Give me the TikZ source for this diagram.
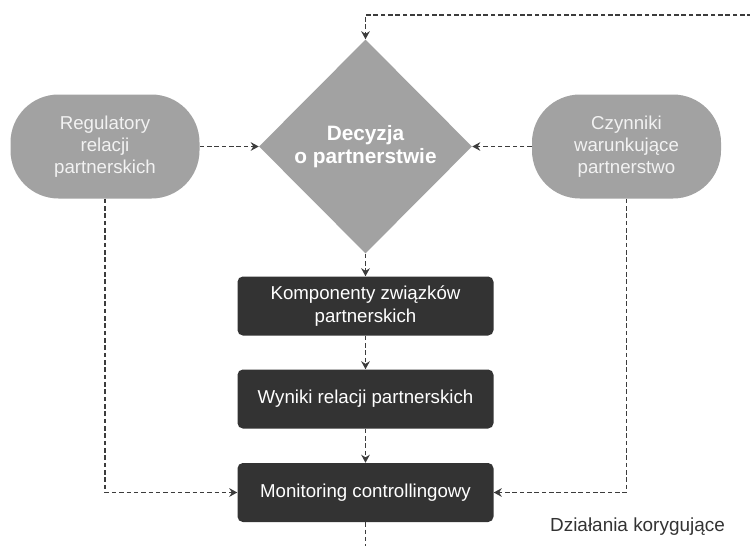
\documentclass[tikz,border=0pt]{standalone}
\usepackage{fontspec}
\setmainfont{Liberation Sans}
\usetikzlibrary{shapes.geometric,arrows.meta}
\definecolor{shapegray}{HTML}{A2A2A2}
\definecolor{boxdark}{HTML}{333333}
\definecolor{linedark}{HTML}{3C3C3C}
\definecolor{softwhite}{HTML}{F2F2F2}
\begin{document}
\begin{tikzpicture}[x=0.75pt,y=-0.75pt,
  stadium/.style={draw=none,fill=shapegray,rounded corners=36pt,minimum width=141.75pt,minimum height=78pt,
     text=softwhite,align=center,font=\fontsize{14}{16.5}\selectfont,inner sep=0pt},
  decbox/.style={diamond,draw=none,fill=shapegray,minimum width=159.75pt,minimum height=160.5pt,inner sep=0pt},
  dectext/.style={text=white,align=center,font=\bfseries\fontsize{15.6}{17.3}\selectfont},
  darkbox/.style={draw=none,fill=boxdark,rounded corners=4pt,minimum width=192pt,minimum height=44.25pt,
     text=white,align=center,font=\fontsize{14}{17}\selectfont,inner sep=0pt},
  conn/.style={draw=linedark,line width=1.35pt,dash pattern=on 3.4pt off 2.1pt,-{Stealth[length=6pt,width=6.5pt]}},
  plainconn/.style={draw=linedark,line width=1.35pt,dash pattern=on 3.4pt off 2.1pt}
]
\useasboundingbox (0,0) rectangle (750,546);

\node[decbox] (dec) at (365.5,146.5) {};
\node[dectext] (dect) at (365.5,146.5) {Decyzja\\o partnerstwie};

\node[stadium] (reg) at (105,146.5) {Regulatory\\relacji\\partnerskich};
\node[stadium] (czy) at (626.5,146.5) {Czynniki\\warunkujące\\partnerstwo};

\node[darkbox] (komp) at (365.5,306) {Komponenty związków\\partnerskich};
\node[darkbox] (wyn) at (365.5,399) {Wyniki relacji partnerskich};
\node[darkbox] (mon) at (365.5,492.5) {Monitoring controllingowy};

\node[text=boxdark,font=\fontsize{14.2}{16}\selectfont,inner sep=0pt] (dzial) at (637.5,527) {Działania korygujące};

\coordinate (fbR) at (752,15);
\coordinate (bot) at (365.5,548);

\draw[conn] (fbR) -| (dec.north);
\draw[conn] (reg.east) -- (dec.west);
\draw[conn] (czy.west) -- (dec.east);
\draw[conn] (dec.south) -- (komp.north);
\draw[conn] (komp.south) -- (wyn.north);
\draw[conn] (wyn.south) -- (mon.north);
\draw[conn] (reg.south) |- (mon.west);
\draw[conn] (czy.south) |- (mon.east);
\draw[plainconn] (mon.south) -- (bot);
\end{tikzpicture}
\end{document}
